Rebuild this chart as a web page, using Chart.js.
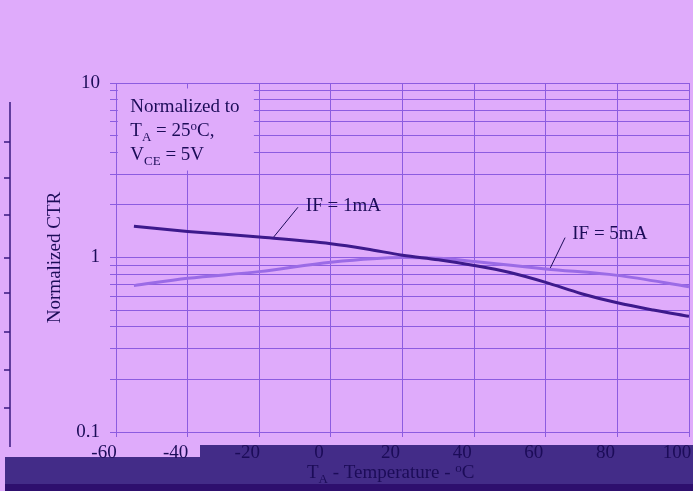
<!DOCTYPE html>
<html lang="en">
<head>
  <meta charset="UTF-8" />
  <title>Normalized CTR vs Temperature</title>
  <script src="https://cdn.jsdelivr.net/npm/chart.js"></script>
  <style>
    body { margin: 0; background: #dfabfb; }
    canvas { display: block; }
  </style>
</head>
<body>
  <canvas id="myChart" width="693" height="491"></canvas>

  <script>
    // values
    const temps1mA = [-55, -40, -20, 0, 10, 20, 30, 40, 50, 60, 70, 80, 90, 100];
    const ctr1mA   = [1.51, 1.41, 1.31, 1.20, 1.12, 1.03, 0.97, 0.90, 0.82, 0.72, 0.62, 0.55, 0.50, 0.46];
    const temps5mA = [-55, -40, -20, 0, 20, 30, 40, 60, 80, 100];
    const ctr5mA   = [0.69, 0.76, 0.83, 0.94, 1.00, 0.99, 0.95, 0.86, 0.79, 0.68];

    const xTicks = [-60, -40, -20, 0, 20, 40, 60, 80, 100];
    const yLabels = [0.1, 1, 10];
    const yGrid = [0.1, 0.2, 0.3, 0.4, 0.5, 0.6, 0.7, 0.8, 0.9, 1, 2, 3, 4, 5, 6, 7, 8, 9, 10];

    const bg = '#dfabfb';
    const gridColor = '#8c5ce0';
    const textColor = '#1c0c58';
    const serif = "'Liberation Serif', 'Times New Roman', serif";
    const fs = 19;

    const toPoints = (xs, ys) => xs.map((x, i) => ({ x: x, y: ys[i] }));

    function subText(ctx, parts, x, y) {
      // parts: [text, size, dy]
      parts.forEach(p => {
        ctx.font = p[1] + 'px ' + serif;
        ctx.fillText(p[0], x, y + p[2]);
        x += ctx.measureText(p[0]).width;
      });
    }

    const decor = {
      id: 'decor',
      beforeDraw(chart) {
        const ctx = chart.ctx;
        ctx.save();
        ctx.fillStyle = bg;
        ctx.fillRect(0, 0, chart.width, chart.height);
        // dark band under the axis
        ctx.fillStyle = '#432c88';
        ctx.fillRect(5, 457, 200, 34);
        ctx.fillRect(200, 445, chart.width - 200, 46);
        ctx.fillStyle = '#2e0f6e';
        ctx.fillRect(5, 484, chart.width - 5, 7);
        // clipped piece of a neighbouring chart on the left edge
        ctx.strokeStyle = '#3a1a80';
        ctx.lineWidth = 1.5;
        ctx.beginPath();
        ctx.moveTo(10, 102); ctx.lineTo(10, 447);
        [142, 178, 215, 258, 293, 332, 370, 408].forEach(y => {
          ctx.moveTo(4, y); ctx.lineTo(10, y);
        });
        ctx.stroke();
        ctx.restore();
      },
      beforeDatasetsDraw(chart) {
        const ctx = chart.ctx;
        const x = chart.scales.x, y = chart.scales.y;
        ctx.save();
        // note box
        const x0 = x.getPixelForValue(-59.5), x1 = x.getPixelForValue(-21.5);
        const y0 = y.getPixelForValue(9.3), y1 = y.getPixelForValue(3.15);
        ctx.fillStyle = bg;
        ctx.fillRect(x0, y0, x1 - x0, y1 - y0);
        ctx.fillStyle = textColor;
        ctx.textBaseline = 'alphabetic';
        const tx = x.getPixelForValue(-56);
        subText(ctx, [['Normalized to', fs, 0]], tx, 112);
        subText(ctx, [['T', fs, 0], ['A', 13, 5], [' = 25', fs, 0], ['o', 13, -6], ['C,', fs, 0]], tx, 136);
        subText(ctx, [['V', fs, 0], ['CE', 13, 5], [' = 5V', fs, 0]], tx, 160);

        // curve labels with leader lines
        ctx.strokeStyle = textColor;
        ctx.lineWidth = 1;
        ctx.beginPath();
        ctx.moveTo(x.getPixelForValue(-16.1), y.getPixelForValue(1.30));
        ctx.lineTo(x.getPixelForValue(-9.2), y.getPixelForValue(1.94));
        ctx.moveTo(x.getPixelForValue(61.2), y.getPixelForValue(0.865));
        ctx.lineTo(x.getPixelForValue(65.4), y.getPixelForValue(1.30));
        ctx.stroke();
        ctx.textBaseline = 'middle';
        subText(ctx, [['IF = 1mA', fs, 0]], x.getPixelForValue(-7), y.getPixelForValue(1.96));
        subText(ctx, [['IF = 5mA', fs, 0]], x.getPixelForValue(67.4), y.getPixelForValue(1.36));
        ctx.restore();
      },
      afterDraw(chart) {
        const ctx = chart.ctx;
        ctx.save();
        ctx.fillStyle = textColor;
        ctx.textBaseline = 'alphabetic';
        subText(ctx, [['T', fs, 0], ['A', 13, 5], [' - Temperature - ', fs, 0], ['o', 13, -6], ['C', fs, 0]], 307, 478);
        ctx.restore();
      }
    };

    new Chart(document.getElementById('myChart').getContext('2d'), {
      type: 'line',
      data: {
        datasets: [
          {
            label: 'IF = 1mA',
            data: toPoints(temps1mA, ctr1mA),
            borderColor: '#3d1a8c',
            borderWidth: 3,
            pointRadius: 0,
            cubicInterpolationMode: 'monotone'
          },
          {
            label: 'IF = 5mA',
            data: toPoints(temps5mA, ctr5mA),
            borderColor: '#9b6be6',
            borderWidth: 3,
            pointRadius: 0,
            cubicInterpolationMode: 'monotone'
          }
        ]
      },
      options: {
        responsive: false,
        animation: false,
        layout: { padding: { left: 44, top: 83, right: 4, bottom: 0 } },
        plugins: {
          legend: { display: false },
          tooltip: { enabled: false }
        },
        scales: {
          x: {
            type: 'linear',
            min: -60,
            max: 100,
            afterBuildTicks: s => { s.ticks = xTicks.map(v => ({ value: v })); },
            afterFit: s => { s.height = 59; s.paddingLeft = 0; s.paddingRight = 0; },
            ticks: {
              color: textColor,
              font: { family: serif, size: fs },
              padding: 5,
              labelOffset: -12,
              maxRotation: 0
            },
            grid: { color: gridColor, tickLength: 5, lineWidth: 1 },
            border: { color: gridColor }
          },
          y: {
            type: 'logarithmic',
            min: 0.1,
            max: 10,
            afterBuildTicks: s => { s.ticks = yGrid.map(v => ({ value: v })); },
            afterFit: s => { s.width = 72; s.paddingTop = 0; s.paddingBottom = 0; },
            ticks: {
              autoSkip: false,
              color: textColor,
              font: { family: serif, size: fs },
              padding: 10,
              callback: v => yLabels.includes(v) ? String(v) : ''
            },
            grid: { color: gridColor, tickLength: 6, lineWidth: 1 },
            border: { color: gridColor },
            title: {
              display: true,
              text: 'Normalized CTR',
              color: textColor,
              font: { family: serif, size: fs },
              padding: 0
            }
          }
        }
      },
      plugins: [decor]
    });
  </script>
</body>
</html>
